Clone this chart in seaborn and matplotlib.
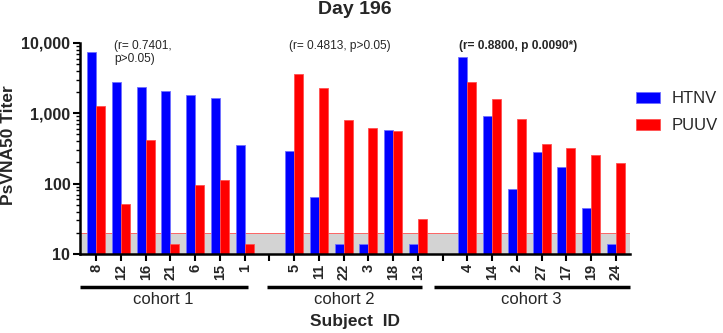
import numpy as np
import pandas as pd
import matplotlib
matplotlib.use("Agg")
import matplotlib.pyplot as plt
import matplotlib.ticker as mticker
import seaborn as sns

# données (titres PsVNA50, jour 196)
subjects = ["8", "12", "16", "21", "6", "15", "1",
            "5", "11", "22", "3", "18", "13",
            "4", "14", "2", "27", "17", "19", "24"]
htnv = [7500, 2770, 2400, 2100, 1790, 1650, 350,
        295, 64, 14, 14, 575, 14,
        6300, 900, 83, 282, 175, 45, 14]
puuv = [1250, 52, 420, 14, 95, 112, 14,
        3600, 2300, 800, 620, 556, 31,
        2800, 1620, 830, 367, 319, 253, 195]
cohorts = ["cohort 1", "cohort 2", "cohort 3"]
cohort_sizes = [7, 6, 7]
annotations = ["(r= 0.7401,\np>0.05)", "(r= 0.4813, p>0.05)", "(r= 0.8800, p 0.0090*)"]

# ordre des sujets avec un espace vide entre les cohortes
order = []
start = 0
for i, n in enumerate(cohort_sizes):
    order += subjects[start:start + n]
    start += n
    if i < len(cohort_sizes) - 1:
        order.append("gap%d" % i)

df = pd.DataFrame({"Subject": subjects * 2,
                   "Titer": htnv + puuv,
                   "Virus": ["HTNV"] * len(subjects) + ["PUUV"] * len(subjects)})

sns.set_style("ticks")
plt.rcParams["font.family"] = ["Liberation Sans", "DejaVu Sans"]

fig = plt.figure(figsize=(7.23, 3.33), dpi=100)
ax = fig.add_axes([0.1107, 0.2372, 0.7600, 0.634])

ax.axhspan(10, 20, facecolor="#d3d3d3", edgecolor="none", zorder=0, lw=0)
sns.barplot(data=df, x="Subject", y="Titer", hue="Virus", order=order,
            hue_order=["HTNV", "PUUV"], palette=["#0000ff", "#ff0000"],
            width=0.72, saturation=1, ax=ax, zorder=2, log_scale=(False, True))
for p in ax.patches:
    fc = p.get_facecolor()
    if fc[2] > 0.5 and fc[0] < 0.5:
        p.set_edgecolor("#7070ff")
    else:
        p.set_edgecolor("#ff5050")
    p.set_linewidth(0.6)

ax.set_yscale("log")
ax.set_ylim(10, 10000)
ax.set_xlim(-0.65, len(order) - 0.45)
ax.yaxis.set_major_locator(mticker.LogLocator(base=10))
ax.yaxis.set_major_formatter(mticker.FuncFormatter(lambda v, _: "{:,.0f}".format(v)))
ax.yaxis.set_minor_locator(mticker.LogLocator(base=10, subs=np.arange(2, 10)))
ax.yaxis.set_minor_formatter(mticker.NullFormatter())

ax.set_xticks(range(len(order)))
ax.set_xticklabels(["" if s.startswith("gap") else s for s in order],
                   rotation=90, fontsize=10.5, fontweight="bold")
for lab in ax.get_yticklabels():
    lab.set_fontweight("bold")
    lab.set_fontsize(11.5)
ax.tick_params(axis="both", which="major", width=1.5, length=5, color="black", pad=2)
ax.tick_params(axis="y", which="minor", width=1, length=3, color="black")

sns.despine(ax=ax)
ax.spines["left"].set_linewidth(1.8)
ax.spines["bottom"].set_linewidth(1.8)
ax.spines["left"].set_color("black")
ax.spines["bottom"].set_color("black")

ax.set_xlabel("")
ax.set_ylabel("")
fig.text(9 / 723, 1 - 145 / 333, "PsVNA50 Titer", rotation=90, ha="center",
         va="center", fontsize=12.5, fontweight="bold")
fig.text(355 / 723, 1 - 10 / 333, "Day 196", ha="center", va="center",
         fontsize=14, fontweight="bold")

# lignes et noms des cohortes (débords un peu inégaux comme sur l'original)
pad_left = [0.67, 1.1, 1.35]
pad_right = [0.13, 0.17, 0.55]
trans = ax.get_xaxis_transform()
start = 0
for i, n in enumerate(cohort_sizes):
    pos0 = order.index(subjects[start])
    pos1 = order.index(subjects[start + n - 1])
    x0 = pos0 - pad_left[i]
    x1 = pos1 + pad_right[i]
    ax.plot([x0, x1], [-0.155, -0.155], transform=trans, color="black",
            lw=2.5, clip_on=False, solid_capstyle="butt")
    ax.text((x0 + x1) / 2, -0.215, cohorts[i], transform=trans, ha="center",
            va="center", fontsize=12)
    start += n
ax.text(0.5, -0.318, "Subject  ID", transform=ax.transAxes, ha="center",
        va="center", fontsize=12.5, fontweight="bold")

# annotations de corrélation
ax.text(0.72, 1.015, annotations[0], transform=trans, ha="left", va="top",
        fontsize=8.6, linespacing=1.15)
ax.text(7.8, 1.015, annotations[1], transform=trans, ha="left", va="top",
        fontsize=8.6)
ax.text(14.68, 1.015, annotations[2], transform=trans, ha="left", va="top",
        fontsize=8.6, fontweight="bold")

leg = ax.legend(loc="center left", bbox_to_anchor=(636 / 723, 1 - 112 / 333),
                bbox_transform=fig.transFigure, frameon=False, fontsize=12,
                handlelength=1.45, handleheight=0.66, handletextpad=0.7,
                labelspacing=0.72, borderpad=0, borderaxespad=0)

fig.savefig("out.png", dpi=100)
